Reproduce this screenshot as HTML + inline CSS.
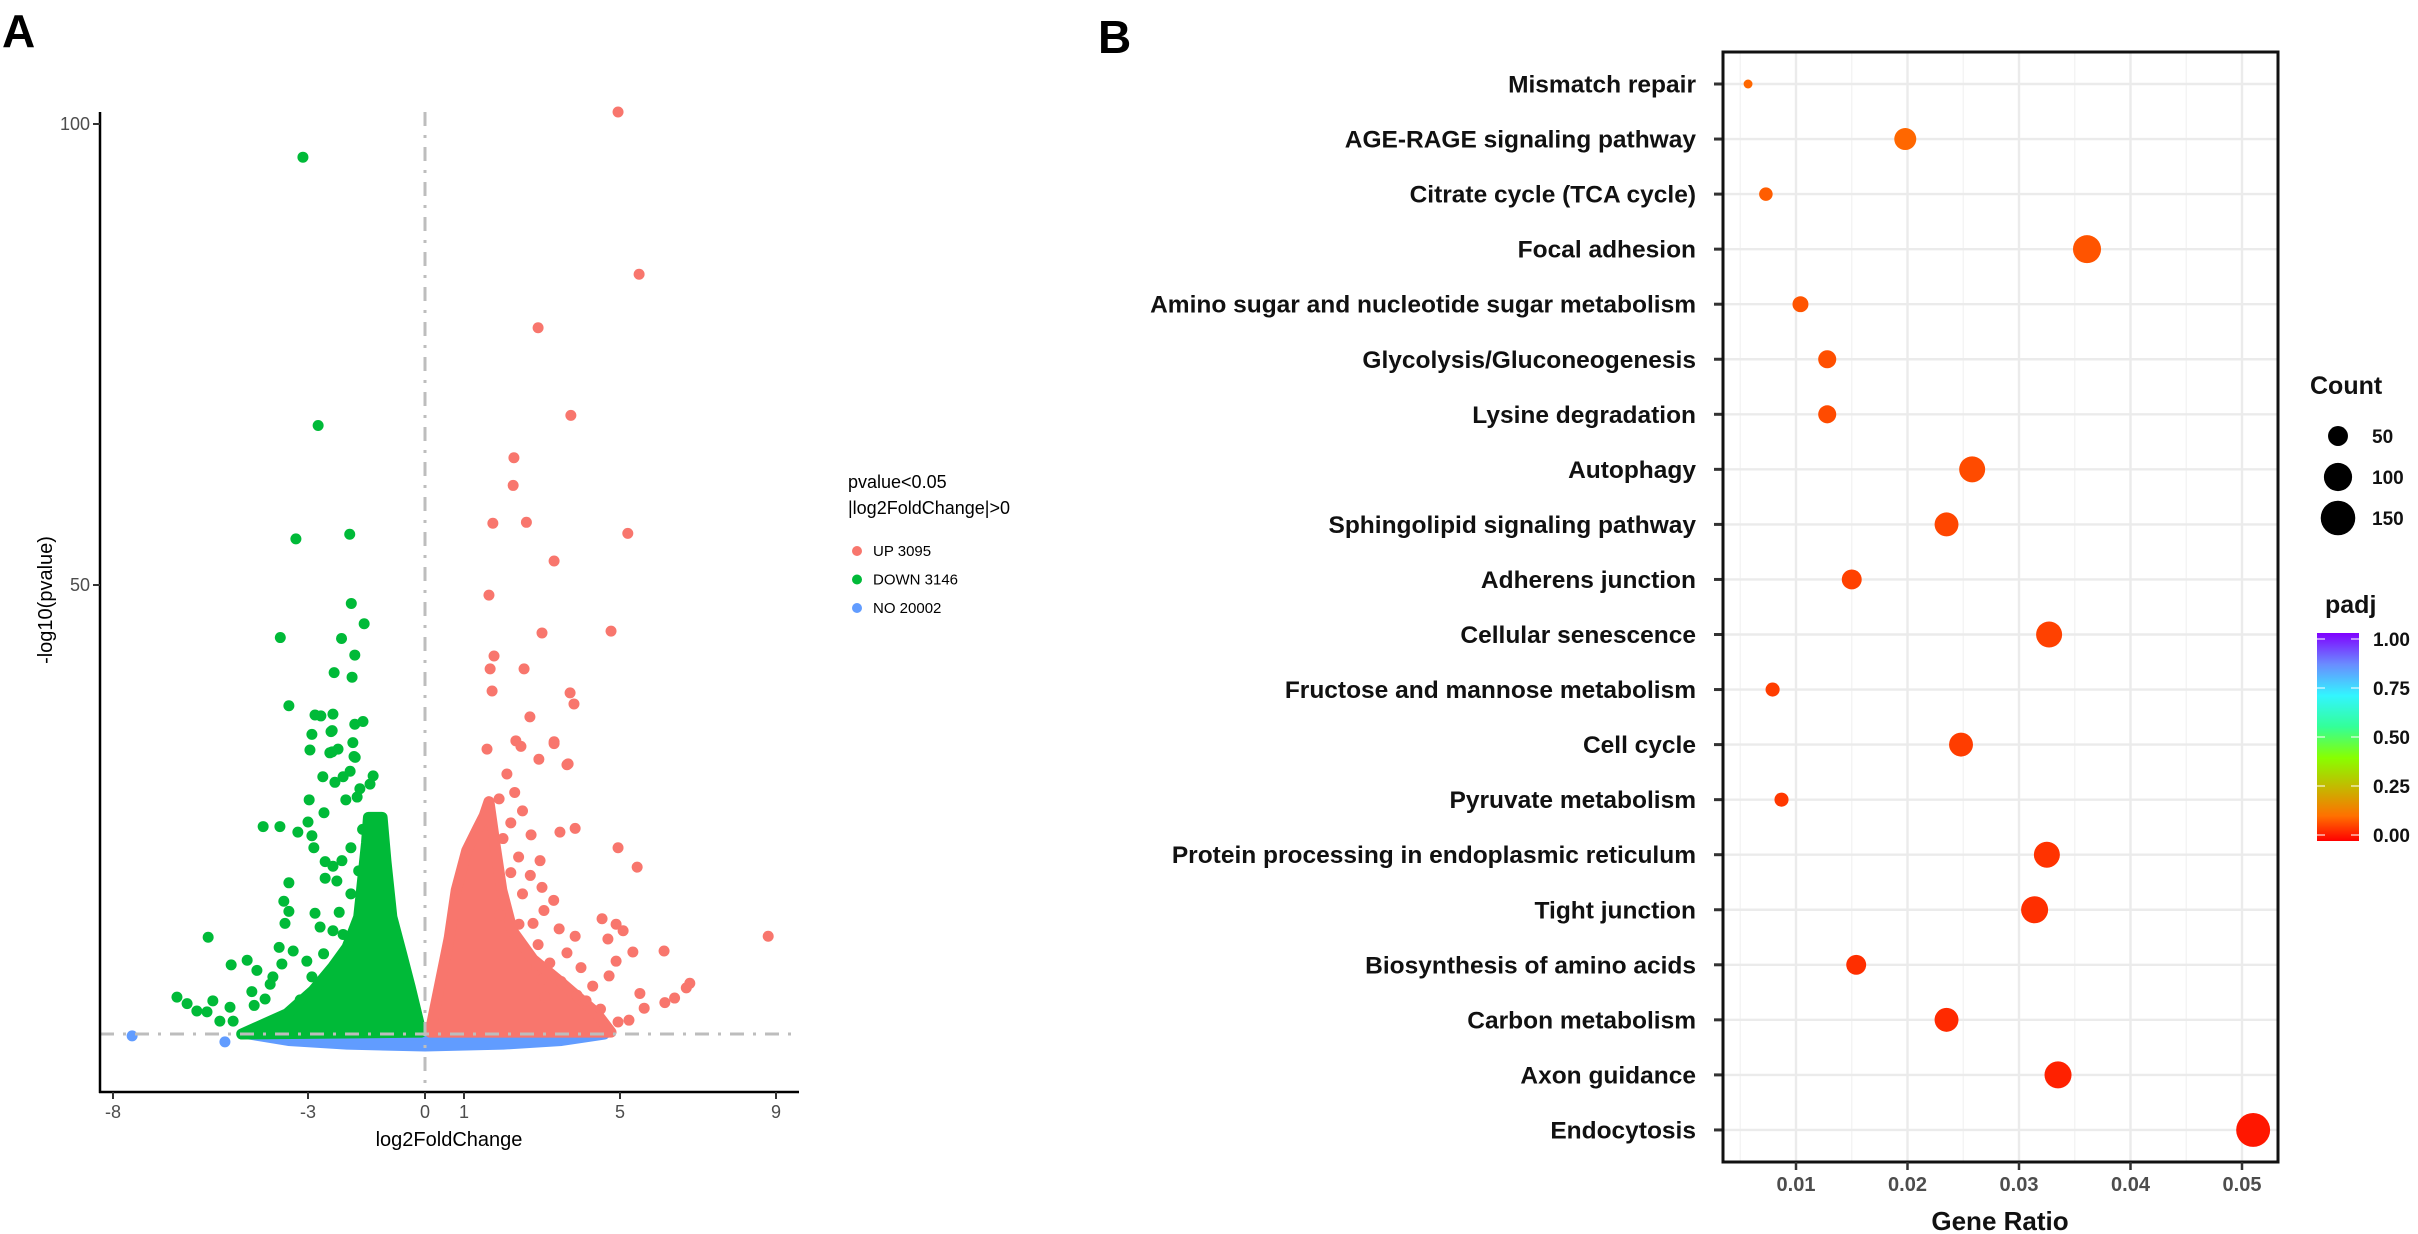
<!DOCTYPE html>
<html><head><meta charset="utf-8">
<style>
html,body{margin:0;padding:0;background:#fff;}
svg{display:block;font-family:"Liberation Sans",Arial,sans-serif;}
</style></head>
<body>
<svg id="fig" width="2418" height="1234" viewBox="0 0 2418 1234" xmlns="http://www.w3.org/2000/svg">
  <rect x="0" y="0" width="2418" height="1234" fill="#fff"/>
  <text x="2" y="47" font-size="46" font-weight="bold">A</text>
  <text x="1098" y="53" font-size="46" font-weight="bold">B</text>
  <g id="volcano"></g>
  <g id="dotplot"></g>
</svg>
<script>
// ===== Volcano data =====
const volcXTicks = [-8, -3, 0, 1, 5, 9];
const volcYTicks = [50, 100];
const pThreshold = 1.3;
const legendLabels = ["UP 3095", "DOWN 3146", "NO 20002"];
const upPoints = [[4.95,101.3],[5.49,83.7],[2.9,77.9],[3.74,68.4],[2.28,63.8],[2.26,60.8],[1.74,56.7],[2.6,56.8],[5.2,55.6],[3.31,52.6],[1.64,48.9],[4.77,45],[3.0,44.8],[1.77,42.3],[1.67,40.9],[2.54,40.9],[1.72,38.5],[3.72,38.3],[3.82,37.1],[2.69,35.7],[2.33,33.1],[2.46,32.5],[3.31,33],[1.59,32.2],[3.67,30.6],[2.92,31.1],[4.95,21.5],[5.44,19.4],[8.8,11.9],[4.54,13.8],[4.9,13.2],[5.08,12.5],[4.69,11.6],[5.33,10.2],[6.13,10.3],[4.9,9.2],[4.72,7.6],[6.79,6.8],[6.7,6.3],[6.4,5.2],[6.15,4.7],[5.51,5.7],[5.62,4.1],[5.23,2.8],[4.95,2.6],[3.85,23.6],[3.46,23.2],[2.72,22.9],[2.95,20.1],[3.64,30.5],[3.31,32.8],[3.05,14.7],[3.44,12.7],[3.85,11.9],[2.41,13.2],[2.77,13.3],[1.92,14.2],[3.64,10.1],[3.49,7.0],[4.13,4.9],[3.08,5.3],[2.1,29.5],[2.3,27.5],[1.9,26.8],[2.5,25.5],[2.2,24.2],[2.0,22.5],[2.4,20.5],[2.7,18.5],[2.2,18.8],[3.0,17.2],[2.5,16.5],[3.3,15.8],[2.9,11.0],[3.2,9.0],[4.0,8.5],[4.3,6.5],[3.9,5.5],[4.5,4.0],[2.6,8.5],[3.0,7.2]];
const upCore = [[0.13,1.5],[0.62,11.7],[0.8,16.9],[1.07,21.2],[1.34,23.5],[1.52,25],[1.64,26.5],[1.79,22],[1.97,16.9],[2.24,12.5],[2.77,9.4],[3.49,6.9],[4.39,3.6],[4.77,1.5]];
const downPoints = [[-3.13,96.4],[-2.74,67.3],[-3.31,55],[-1.93,55.5],[-1.89,48],[-1.56,45.8],[-3.71,44.3],[-2.14,44.2],[-1.8,42.4],[-2.33,40.5],[-1.87,40],[-3.49,36.9],[-2.82,35.9],[-2.36,36],[-1.8,34.9],[-1.59,35.2],[-2.9,33.8],[-2.41,34.1],[-1.85,32.9],[-2.95,32.1],[-2.44,31.8],[-2.23,32.2],[-1.82,31.4],[-2.67,35.8],[-2.38,34.2],[-2.38,31.9],[-1.79,31.3],[-2.62,29.2],[-2.31,28.6],[-2.1,29.2],[-1.92,29.8],[-1.33,29.3],[-1.67,27.9],[-1.41,28.4],[-2.97,26.7],[-2.03,26.7],[-1.74,27],[-2.59,25.3],[-4.15,23.8],[-3.72,23.8],[-3.26,23.2],[-3.0,24.3],[-2.9,22.8],[-2.85,21.5],[-2.56,20],[-2.36,19.5],[-2.13,20.1],[-2.56,18.2],[-2.26,17.9],[-3.49,17.7],[-3.62,15.7],[-3.49,14.6],[-3.59,13.3],[-2.82,14.4],[-2.69,12.9],[-2.36,12.5],[-2.1,12.1],[-5.56,11.8],[-3.74,10.7],[-3.38,10.3],[-3.03,9.2],[-4.56,9.3],[-4.97,8.8],[-4.31,8.2],[-3.67,8.9],[-3.9,7.5],[-3.97,6.7],[-4.44,5.9],[-4.1,5.1],[-4.38,4.4],[-5.0,4.2],[-5.44,4.9],[-5.85,3.8],[-6.36,5.3],[-6.1,4.6],[-5.59,3.7],[-4.92,2.7],[-5.26,2.7],[-3.2,5.0],[-2.9,7.5],[-2.6,10.0],[-2.2,14.5],[-1.9,16.5],[-1.7,19.0],[-1.9,21.5],[-1.6,23.5]];
const downCore = [[-4.7,1.3],[-3.54,3.5],[-2.87,6],[-2.36,8.6],[-2.0,10.7],[-1.7,14],[-1.6,18],[-1.5,22],[-1.45,24.8],[-1.1,24.8],[-1.0,20],[-0.85,14],[-0.6,10],[-0.38,6.4],[-0.1,1.5]];
const noPoints = [[-7.51,1.1],[-5.13,0.45]];
const noCore = [[-4.5,1.3],[-3.5,0.6],[-2,0.2],[0,0],[2,0.2],[3.5,0.6],[4.6,1.3],[4.6,1.45],[-4.5,1.45]];

// ===== Dot plot data =====
const pathways = ["Mismatch repair","AGE-RAGE signaling pathway","Citrate cycle (TCA cycle)","Focal adhesion","Amino sugar and nucleotide sugar metabolism","Glycolysis/Gluconeogenesis","Lysine degradation","Autophagy","Sphingolipid signaling pathway","Adherens junction","Cellular senescence","Fructose and mannose metabolism","Cell cycle","Pyruvate metabolism","Protein processing in endoplasmic reticulum","Tight junction","Biosynthesis of amino acids","Carbon metabolism","Axon guidance","Endocytosis"];
const geneRatio = [0.0057,0.0198,0.0073,0.0361,0.0104,0.0128,0.0128,0.0258,0.0235,0.0150,0.0327,0.0079,0.0248,0.0087,0.0325,0.0314,0.0154,0.0235,0.0335,0.0510];
const counts = [10,61,23,99,32,41,41,85,72,50,85,25,72,25,85,92,50,72,92,145];
const padj = [0.11,0.11,0.10,0.09,0.09,0.085,0.08,0.08,0.075,0.07,0.07,0.065,0.065,0.06,0.055,0.05,0.05,0.045,0.035,0.025];
const ratioTicks = [0.01,0.02,0.03,0.04,0.05];
const ratioMinor = [0.005,0.015,0.025,0.035,0.045];
const sizeLegend = [50,100,150];
const padjTicks = [1.00,0.75,0.50,0.25,0.00];

const NS = "http://www.w3.org/2000/svg";
function mk(tag, attrs, parent){ const e=document.createElementNS(NS,tag); for(const k in attrs) e.setAttribute(k,attrs[k]); parent.appendChild(e); return e; }

// ---------- Volcano ----------
const V = document.getElementById('volcano');
const vx = v => 425 + 39*v;
const vy = v => 1046 - 9.22*v;
const ptR = 5.5;
function core(arr, color, name){
  const p = mk('polygon',{points: arr.map(d=>vx(d[0])+','+vy(d[1])).join(' '), fill:color, stroke:color, 'stroke-width':11, 'stroke-linejoin':'round'}, V);
  
  
}
function pts(arr, color, name){
  arr.forEach(d=>{
    const c = mk('circle',{cx:vx(d[0]), cy:vy(d[1]), r:ptR, fill:color}, V);
    
    
  });
}
core(noCore,'#619cff','no-change-cloud');
core(downCore,'#00ba38','down-cloud');
core(upCore,'#f8766d','up-cloud');
pts(noPoints,'#619cff','no-change-point');
pts(downPoints,'#00ba38','down-point');
pts(upPoints,'#f8766d','up-point');
const vl = mk('line',{x1:vx(0),y1:112,x2:vx(0),y2:1092,stroke:'#bdbdbd','stroke-width':3,'stroke-dasharray':'14,9,3,9'},V);


const hl = mk('line',{x1:100,y1:vy(pThreshold),x2:799,y2:vy(pThreshold),stroke:'#bdbdbd','stroke-width':3,'stroke-dasharray':'14,9,3,9'},V);


const ya = mk('line',{x1:100,y1:112,x2:100,y2:1093,stroke:'#000','stroke-width':2.5},V);


const xa = mk('line',{x1:99,y1:1092,x2:799,y2:1092,stroke:'#000','stroke-width':2.5},V);


volcXTicks.forEach(t=>{
  mk('line',{x1:vx(t),y1:1092,x2:vx(t),y2:1099,stroke:'#333','stroke-width':2},V);
  const tx = mk('text',{x:vx(t),y:1118,'font-size':18,'text-anchor':'middle',fill:'#4d4d4d'},V);
  tx.textContent = t;
  
  
});
volcYTicks.forEach(t=>{
  mk('line',{x1:93,y1:vy(t),x2:100,y2:vy(t),stroke:'#333','stroke-width':2},V);
  const tx = mk('text',{x:90,y:vy(t)+6,'font-size':18,'text-anchor':'end',fill:'#4d4d4d'},V);
  tx.textContent = t;
  
  
});
const xt = mk('text',{x:449,y:1146,'font-size':20,'text-anchor':'middle',fill:'#000'},V);
xt.textContent='log2FoldChange';


const yt = mk('text',{x:0,y:0,'font-size':20,'text-anchor':'middle',fill:'#000',transform:'translate(52,600) rotate(-90)'},V);
yt.textContent='-log10(pvalue)';


const lt1 = mk('text',{x:848,y:488,'font-size':18,fill:'#000'},V); lt1.textContent='pvalue<0.05';


const lt2 = mk('text',{x:848,y:514,'font-size':18,fill:'#000'},V); lt2.textContent='|log2FoldChange|>0';


const legCols = ['#f8766d','#00ba38','#619cff'];
legendLabels.forEach((lab,i)=>{
  const y = 551 + i*28.5;
  const c = mk('circle',{cx:857,cy:y,r:5,fill:legCols[i]},V);
  
  
  const t = mk('text',{x:873,y:y+5,'font-size':15,fill:'#000'},V); t.textContent=lab;
  
  
});

// ---------- Dot plot ----------
const D = document.getElementById('dotplot');
const L=1723, R=2278, T=52, B=1162;
const dx = v => 1796 + (v-0.01)*11150;
const rowY = i => 84 + i*55.05;
const rOf = c => 1.41*Math.sqrt(c);
const stops = [[0,[255,0,0]],[0.12,[255,112,0]],[0.25,[200,180,0]],[0.4,[136,255,0]],[0.55,[51,255,153]],[0.7,[51,245,255]],[0.85,[106,140,255]],[1,[128,0,255]]];
function colOf(p){
  for(let i=1;i<stops.length;i++){ if(p<=stops[i][0]){ const a=stops[i-1],b=stops[i]; const f=(p-a[0])/(b[0]-a[0]); return 'rgb('+a[1].map((v,k)=>Math.round(v+(b[1][k]-v)*f)).join(',')+')'; } }
  return 'rgb(128,0,255)';
}
ratioMinor.forEach(t=>{ mk('line',{x1:dx(t),y1:T,x2:dx(t),y2:B,stroke:'#f2f2f2','stroke-width':1.2},D); });
ratioTicks.forEach(t=>{ const g=mk('line',{x1:dx(t),y1:T,x2:dx(t),y2:B,stroke:'#ebebeb','stroke-width':2.4},D);
  
   });
pathways.forEach((p,i)=>{
  mk('line',{x1:L,y1:rowY(i),x2:R,y2:rowY(i),stroke:'#ebebeb','stroke-width':2.4},D);
  mk('line',{x1:1714,y1:rowY(i),x2:L,y2:rowY(i),stroke:'#333','stroke-width':3},D);
  const t = mk('text',{x:1696,y:rowY(i)+8.5,'font-size':24.5,'font-weight':'bold','text-anchor':'end',fill:'#111'},D);
  t.textContent = p;
  
  
});
pathways.forEach((p,i)=>{
  const c = mk('circle',{cx:dx(geneRatio[i]),cy:rowY(i),r:rOf(counts[i]),fill:colOf(padj[i])},D);
  
  
});
const border = mk('rect',{x:L,y:T,width:R-L,height:B-T,fill:'none',stroke:'#111','stroke-width':3},D);


ratioTicks.forEach(t=>{
  mk('line',{x1:dx(t),y1:B,x2:dx(t),y2:B+8,stroke:'#333','stroke-width':2.5},D);
  const tx = mk('text',{x:dx(t),y:B+29,'font-size':20,'font-weight':'bold','text-anchor':'middle',fill:'#4d4d4d'},D);
  tx.textContent = t.toFixed(2);
  
  
});
const gr = mk('text',{x:2000,y:1230,'font-size':26,'font-weight':'bold','text-anchor':'middle',fill:'#111'},D);
gr.textContent='Gene Ratio';


const ct = mk('text',{x:2310,y:394,'font-size':25,'font-weight':'bold',fill:'#111'},D); ct.textContent='Count';


sizeLegend.forEach((s,i)=>{
  const y = 436 + i*41;
  const c = mk('circle',{cx:2338,cy:y,r:rOf(s),fill:'#000'},D);
  
  
  const t = mk('text',{x:2372,y:y+7,'font-size':19,'font-weight':'bold',fill:'#111'},D); t.textContent=s;
  
  
});
const pt = mk('text',{x:2325,y:613,'font-size':25,'font-weight':'bold',fill:'#111'},D); pt.textContent='padj';


const defs = mk('defs',{},D);
const lg = mk('linearGradient',{id:'padjGrad',x1:0,y1:1,x2:0,y2:0},defs);
stops.forEach(s=>{ mk('stop',{offset:s[0],'stop-color':'rgb('+s[1].join(',')+')'},lg); });
const cbTop=633, cbBot=841;
const cb = mk('rect',{x:2317,y:cbTop,width:42,height:cbBot-cbTop,fill:'url(#padjGrad)'},D);


padjTicks.forEach(v=>{
  const y = cbBot - 6 - v*(cbBot-cbTop-12);
  mk('line',{x1:2317,y1:y,x2:2325,y2:y,stroke:'#fff','stroke-width':1.5,opacity:0.7},D);
  mk('line',{x1:2351,y1:y,x2:2359,y2:y,stroke:'#fff','stroke-width':1.5,opacity:0.7},D);
  const t = mk('text',{x:2373,y:y+7,'font-size':19,'font-weight':'bold',fill:'#111'},D); t.textContent=v.toFixed(2);
  
  
});
</script>
</body></html>
